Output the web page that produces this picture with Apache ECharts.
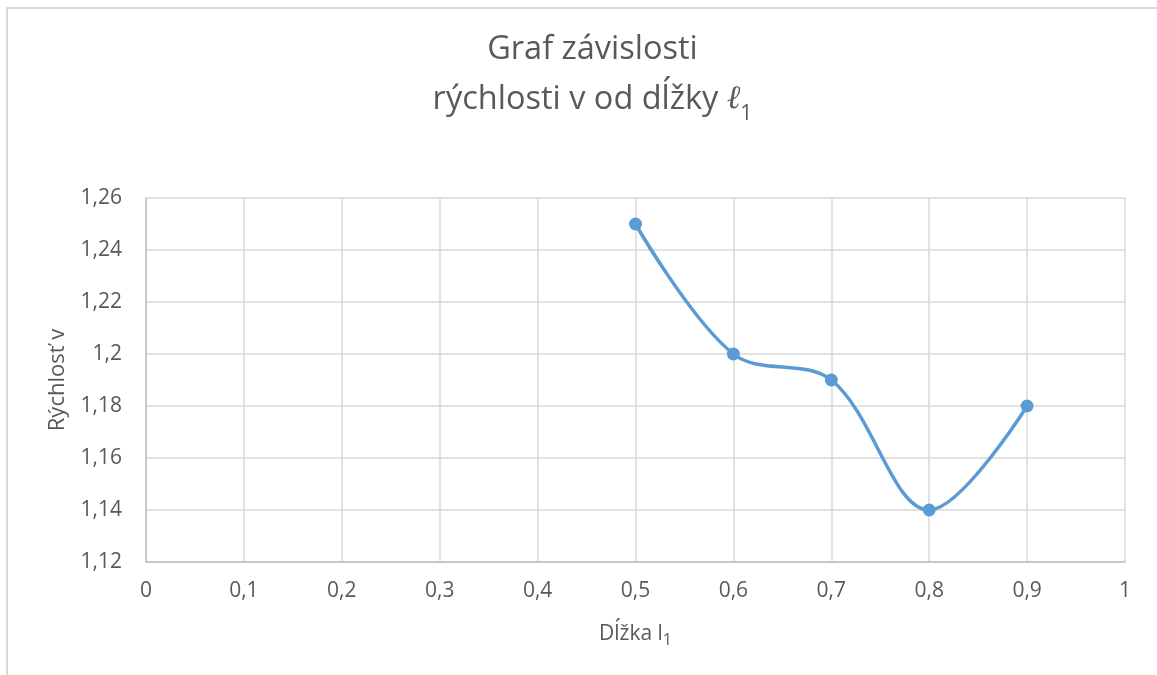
<!DOCTYPE html>
<html>
<head>
<meta charset="utf-8">
<script src="https://cdn.jsdelivr.net/npm/echarts@6/dist/echarts.min.js"></script>
<style>
  html, body { margin: 0; padding: 0; background: #fff; }
  #chart { width: 1157px; height: 675px; }
</style>
</head>
<body>
<div id="chart"></div>
<script>
// dĺžka l1 a rýchlosť v
const dlzka = [0.5, 0.6, 0.7, 0.8, 0.9]
const rychlost = [1.25, 1.2, 1.19, 1.14, 1.18]

const font = '"Open Sans", "Liberation Sans", sans-serif'
const textColor = '#595959'

const chart = echarts.init(document.getElementById('chart'))

const fmt = (v) => String(+v.toFixed(2)).replace('.', ',')

const option = {
    backgroundColor: '#fff',
    textStyle: { fontFamily: font },
    title: {
        left: 'center',
        top: 20,
        // odsadenie nadpisu trochu doprava
        text: '{sp|}Graf závislosti\n{sp|}rýchlosti v od dĺžky {b|ℓ}{sub|1}',
        textStyle: {
            fontFamily: font,
            fontSize: 32.5,
            fontWeight: 'normal',
            color: textColor,
            lineHeight: 50,
            rich: {
                sp: { width: 28 },
                b: { fontSize: 32.5, color: textColor, fontFamily: '"DejaVu Serif", serif', fontStyle: 'italic' },
                sub: { fontSize: 21, color: textColor, fontFamily: font, verticalAlign: 'bottom', padding: [16, 0, 0, 0] }
            }
        }
    },
    graphic: [{
        type: 'rect',
        shape: { x: 7, y: 8, width: 1300, height: 800 },
        style: { fill: 'none', stroke: '#d9d9d9', lineWidth: 2 },
        silent: true
    }],
    grid: {
        left: 146,
        right: 32,
        top: 198,
        bottom: 113
    },
    xAxis: {
        type: 'value',
        min: 0,
        max: 1,
        interval: 0.1,
        name: 'Dĺžka l{sub|1}',
        nameLocation: 'middle',
        nameGap: 58,
        nameTextStyle: {
            fontSize: 21,
            color: textColor,
            fontFamily: font,
            rich: {
                sub: { fontSize: 16, color: textColor, fontFamily: font, padding: [12, 0, 0, 0] }
            }
        },
        axisLine: { lineStyle: { color: '#bfbfbf', width: 1.5 } },
        axisTick: { show: false },
        axisLabel: { fontSize: 21, color: textColor, margin: 19, formatter: fmt },
        splitLine: { lineStyle: { color: '#d9d9d9', width: 1.5 } }
    },
    yAxis: {
        type: 'value',
        min: 1.12,
        max: 1.26,
        interval: 0.02,
        name: 'Rýchlosť v',
        nameLocation: 'middle',
        nameGap: 77,
        nameTextStyle: { fontSize: 22, color: textColor, fontFamily: font },
        axisLine: { show: true, lineStyle: { color: '#bfbfbf', width: 1.5 } },
        axisTick: { show: false },
        axisLabel: { fontSize: 21, color: textColor, margin: 24, formatter: fmt },
        splitLine: { lineStyle: { color: '#d9d9d9', width: 1.5 } }
    },
    series: [{
        type: 'line',
        data: dlzka.map((x, i) => [x, rychlost[i]]),
        smooth: 0.35,
        symbol: 'circle',
        symbolSize: 13,
        itemStyle: { color: '#5b9bd5' },
        lineStyle: { color: '#5b9bd5', width: 3.5 }
    }]
}

chart.setOption(option)
</script>
</body>
</html>
